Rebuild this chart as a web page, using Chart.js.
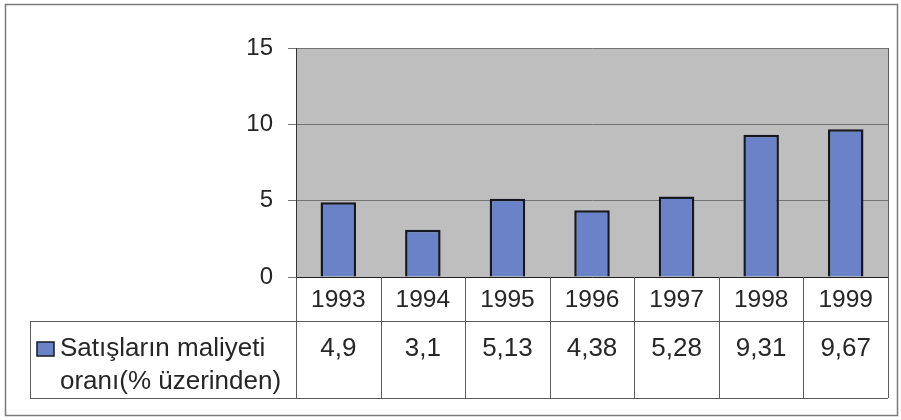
<!DOCTYPE html>
<html>
<head>
<meta charset="utf-8">
<script src="https://cdn.jsdelivr.net/npm/chart.js@4"></script>
<style>
  html, body { margin: 0; padding: 0; background: #ffffff; }
  #wrap { width: 901px; height: 420px; position: relative; }
</style>
</head>
<body>
<div id="wrap"><canvas id="c" width="901" height="420"></canvas></div>
<script>
// Cost-of-sales ratio by year, with an Excel-style data table under the axis
const years = ['1993', '1994', '1995', '1996', '1997', '1998', '1999'];
const costRatio = [4.9, 3.1, 5.13, 4.38, 5.28, 9.31, 9.67];
const seriesLabel = ['Satışların maliyeti', 'oranı(% üzerinden)'];
const yTicks = [0, 5, 10, 15];

const FONT = '"Liberation Sans", Arial, sans-serif';
const TEXT = '#262626';
const BAR_FILL = '#6a83c8';
const BAR_EDGE = '#15181f';

// Turkish decimal comma
const fmt = v => String(v).replace('.', ',');

const tablePlugin = {
  id: 'dataTable',
  beforeDraw(chart) {
    const { ctx, chartArea: a } = chart;
    ctx.save();
    ctx.fillStyle = '#bebebe';
    ctx.fillRect(a.left, a.top, a.right - a.left, a.bottom - a.top);
    ctx.restore();
  },
  afterDraw(chart) {
    const { ctx, chartArea: a } = chart;
    const x = chart.scales.x;
    const colW = (a.right - a.left) / years.length;
    const rowTop = 321, rowBottom = 398, legendLeft = 30;

    ctx.save();
    ctx.strokeStyle = '#5a5a5a';
    ctx.lineWidth = 1;
    const line = (x1, y1, x2, y2) => {
      ctx.beginPath(); ctx.moveTo(x1, y1); ctx.lineTo(x2, y2); ctx.stroke();
    };
    // horizontal table rules
    line(legendLeft, rowTop + 0.5, a.right, rowTop + 0.5);
    line(legendLeft, rowBottom + 0.5, a.right, rowBottom + 0.5);
    line(legendLeft + 0.5, rowTop, legendLeft + 0.5, rowBottom);
    // column separators at category boundaries
    for (let i = 0; i <= years.length; i++) {
      const px = Math.round(x.getPixelForValue(Math.min(i, years.length - 1)) +
        (i === years.length ? colW / 2 : -colW / 2)) + 0.5;
      line(px, a.bottom, px, rowBottom);
    }
    // right edge of the plot area running into the table
    line(Math.round(a.right) + 0.5, a.top, Math.round(a.right) + 0.5, rowBottom);

    // values row
    ctx.fillStyle = TEXT;
    ctx.font = '26px ' + FONT;
    ctx.textAlign = 'center';
    ctx.textBaseline = 'alphabetic';
    costRatio.forEach((v, i) => {
      ctx.fillText(fmt(v), x.getPixelForValue(i), 356);
    });

    // series key
    ctx.fillStyle = BAR_FILL;
    ctx.fillRect(37, 342, 17, 14);
    ctx.strokeStyle = BAR_EDGE;
    ctx.lineWidth = 1.5;
    ctx.strokeRect(37, 342, 17, 14);
    ctx.fillStyle = TEXT;
    ctx.textAlign = 'left';
    ctx.fillText(seriesLabel[0], 60, 356);
    ctx.fillText(seriesLabel[1], 60, 389);

    // outer frame
    ctx.strokeStyle = '#7a7a7a';
    ctx.lineWidth = 1.5;
    ctx.strokeRect(5.5, 4.5, 892, 411);
    ctx.restore();
  }
};

new Chart(document.getElementById('c'), {
  type: 'bar',
  data: {
    labels: years,
    datasets: [{
      label: seriesLabel.join(' '),
      data: costRatio,
      backgroundColor: BAR_FILL,
      borderColor: BAR_EDGE,
      borderWidth: 2.5,
      barPercentage: 0.42,
      categoryPercentage: 1
    }]
  },
  options: {
    responsive: false,
    animation: false,
    devicePixelRatio: 1,
    layout: { padding: { top: 48, right: 13, left: 0, bottom: 0 } },
    plugins: { legend: { display: false }, tooltip: { enabled: false } },
    scales: {
      x: {
        grid: { display: false },
        border: { display: true, color: '#222222', width: 1 },
        ticks: { color: TEXT, font: { family: FONT, size: 24.5 }, padding: 1 },
        afterFit(s) { s.height = 143; }
      },
      y: {
        min: 0,
        max: 15,
        afterBuildTicks(s) { s.ticks = yTicks.map(v => ({ value: v })); },
        grid: { color: '#737373', lineWidth: 1, tickLength: 8 },
        border: { display: true, color: '#333333', width: 1 },
        ticks: { color: TEXT, font: { family: FONT, size: 24 }, padding: 15 },
        afterFit(s) { s.width = 296; }
      }
    }
  },
  plugins: [tablePlugin]
});
</script>
</body>
</html>
